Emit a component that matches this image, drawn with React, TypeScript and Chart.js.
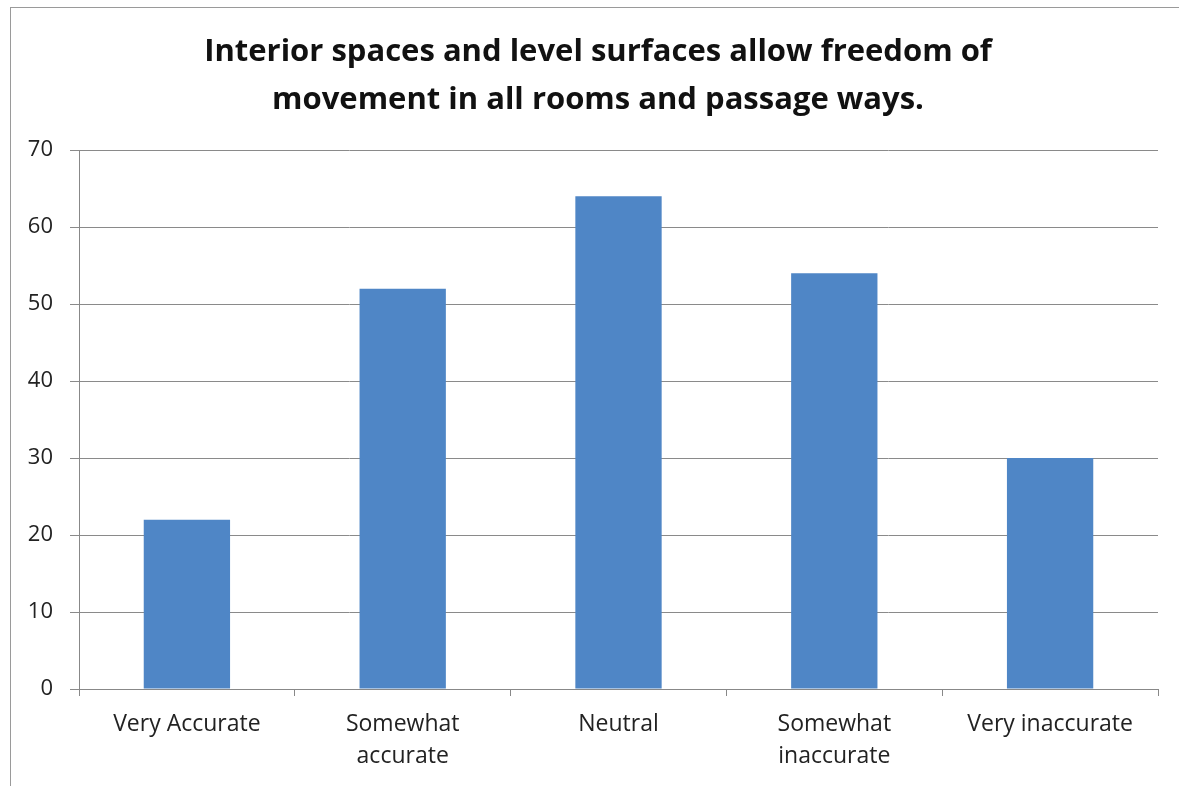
import React, { useEffect, useRef } from "react";
import { Chart, registerables } from "chart.js";

Chart.register(...registerables);

const titleLines = [
  "Interior spaces and level surfaces allow freedom of",
  "movement in all rooms and passage ways.",
];
const categories: (string | string[])[] = [
  "Very Accurate",
  ["Somewhat", "accurate"],
  "Neutral",
  ["Somewhat", "inaccurate"],
  "Very inaccurate",
];
const values = [22, 52, 64, 54, 30];
const yTicks = { min: 0, max: 70, step: 10 };

export default function App() {
  const ref = useRef<HTMLCanvasElement | null>(null);
  useEffect(() => {
    document.body.style.margin = "0";
    const ctx = ref.current!;
    const chart = new Chart(ctx, {
      type: "bar",
      data: {
        labels: categories,
        datasets: [
          {
            data: values,
            backgroundColor: "#4F86C6",
            borderWidth: 0,
            categoryPercentage: 0.8,
            barPercentage: 0.5,
            yAxisID: "y",
          },
        ],
      },
      options: {
        animation: false,
        responsive: false,
        maintainAspectRatio: false,
        layout: { padding: { left: 17, right: 0, top: 0, bottom: 0 } },
        plugins: {
          legend: { display: false },
          tooltip: { enabled: false },
          title: {
            display: true,
            text: titleLines,
            color: "#111",
            font: { family: "Open Sans", size: 31, weight: "bold", lineHeight: 1.55 },
            padding: { top: 28, bottom: 26 },
          },
        },
        scales: {
          x: {
            grid: {
              drawOnChartArea: false,
              drawTicks: true,
              tickLength: 7,
              color: "#888",
              offset: true,
            },
            border: { color: "#888", width: 1 },
            ticks: {
              color: "#222",
              font: { family: "Open Sans", size: 23, lineHeight: 1.39 },
              padding: 12,
              maxRotation: 0,
              autoSkip: false,
            },
            afterFit: (s: any) => {
              s.height = 97;
            },
          },
          y: {
            min: yTicks.min,
            max: yTicks.max,
            grid: { color: "#8a8a8a", tickLength: 9, lineWidth: 1 },
            border: { color: "#888", width: 1 },
            ticks: {
              stepSize: yTicks.step,
              color: "#222",
              font: { family: "Open Sans", size: 22 },
              padding: 17,
            },
            afterFit: (s: any) => {
              s.width = 62;
              s.paddingTop = 0;
              s.paddingBottom = 0;
            },
          },
          y2: {
            position: "right",
            grid: { drawOnChartArea: false, drawTicks: false },
            border: { display: false },
            ticks: { display: false },
            afterFit: (s: any) => {
              s.width = 21;
              s.paddingTop = 0;
              s.paddingBottom = 0;
            },
          },
        },
      },
    });
    return () => chart.destroy();
  }, []);
  return (
    <div style={{ position: "fixed", left: 0, top: 0, width: 1179, height: 786, background: "#fff", overflow: "hidden" }}>
      <div
        style={{
          position: "absolute",
          left: 10,
          top: 7,
          width: 1200,
          height: 800,
          border: "1px solid #9a9a9a",
          boxSizing: "border-box",
        }}
      />
      <canvas ref={ref} width={1179} height={786} style={{ position: "absolute", left: 0, top: 0 }} />
    </div>
  );
}
